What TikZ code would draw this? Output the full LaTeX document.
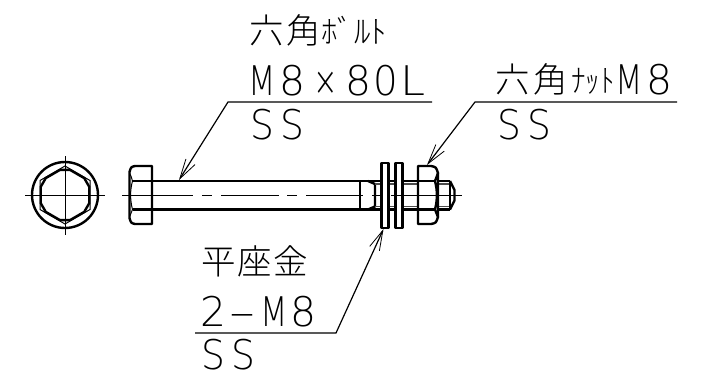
\documentclass[tikz,border=0pt]{standalone}
\usepackage{fontspec}
\newfontfamily\cjk{Noto Sans CJK JP Light}
\newfontfamily\lat{DejaVu Sans ExtraLight}
\setmainfont{DejaVu Sans}
\usetikzlibrary{arrows.meta,calc}
% one glyph, centred on the pen, x-scaled, then an advance in picture pixels
\newcommand\mc[3][1]{\makebox[0pt]{\scalebox{#1}[1]{#2}}\hspace{\dimexpr#3\dimexpr0.75bp\relax\relax}}
\newcommand\latline[1]{{\fontsize{30.75}{32}\lat #1}}
\tikzset{
 heavy/.style={line width=1.8bp,line join=round},
 fine/.style={line width=0.75bp},
 leader/.style={line width=0.9bp,{Straight Barb[length=15bp,width=8bp,line width=0.6bp]}-},
 kan/.style={inner sep=0pt,anchor=base west,font=\fontsize{26}{27}\cjk},
 kana/.style={inner sep=0pt,anchor=base west,font=\fontsize{21}{24}\cjk},
 ltr/.style={inner sep=0pt,anchor=base west},
 washer/.style={heavy,fill=white},
}
\begin{document}
\begin{tikzpicture}[x=0.75bp,y=-0.75bp]
\useasboundingbox (0,0) rectangle (709,373);
% end view
\draw[fine] (25,195)--(105,195) (65,156)--(65,235);
\draw[heavy] (65,195) circle[radius=33];
\draw[fine] (65,166)--(90,180.5)--(90,209.5)--(65,224)--(40,209.5)--(40,180.5)--cycle;
\begin{scope}[shift={(65,195)}]
\draw[heavy] (101.3:25.6)--(78.7:25.6)--(41.3:25.6)--(18.7:25.6)--(-18.7:25.6)--(-41.3:25.6)--(-78.7:25.6)--(-101.3:25.6)--(-138.7:25.6)--(-161.3:25.6)--(161.3:25.6)--(138.7:25.6)--cycle;
\end{scope}
% shank and thread
\draw[heavy] (152,181)--(450,181) (152,209.5)--(450,209.5);
\draw[heavy] (360,181)--(360,209.5);
\draw[heavy] (368,181) .. controls (372,182) .. (375,184)--(375,206.5) .. controls (372,208.5) .. (368,209.5);
\draw[line width=1bp,black!70] (375,184)--(450,184) (375,206.5)--(450,206.5);
\draw[heavy] (450,181)--(450,209.5);
\draw[heavy] (450,181)--(454.5,190)--(454.5,200.5)--(450,209.5);
% bolt head
\draw[heavy] (152,166)--(135,166) .. controls (131,167) .. (129.5,172)--(129.5,218) .. controls (131,223) .. (135,224)--(152,224)--cycle;
\draw[heavy] (132.5,181)--(152,181) (132.5,209.5)--(152,209.5);
\draw[fine] (129.5,173) .. controls (131,176) .. (132.5,181) .. controls (130,190) and (130,200) .. (132.5,209.5) .. controls (131,214) .. (129.5,217);
% washers and nut
\draw[washer] (381.5,163) rectangle (388.5,228);
\draw[washer] (395.5,163) rectangle (402.5,228);
\draw[washer] (418,166)--(431,166) .. controls (436,167) .. (438,173)--(438,217) .. controls (436,223) .. (431,224)--(418,224)--cycle;
\draw[heavy] (418,181)--(435,181) (418,209.5)--(435,209.5);
\draw[heavy] (438,173) .. controls (437,176) .. (435,181) .. controls (437.5,190) and (437.5,200) .. (435,209.5) .. controls (437,214) .. (438,217);
% centre line
\draw[fine] (122,195)--(193,195) (202,195)--(212,195) (221,195)--(279,195) (287,195)--(297,195) (306,195)--(363,195) (372,195)--(381,195) (391,195)--(462,195);
% leaders
\coordinate (tipB) at (179,180);
\coordinate (elbowB) at (228,102);
\coordinate (endB) at (432,102);
\coordinate (tipN) at (427,165);
\coordinate (elbowN) at (475,102);
\coordinate (endN) at (677,102);
\coordinate (tipW) at (383.5,229);
\coordinate (elbowW) at (336,333);
\coordinate (endW) at (195,333);
\draw[leader] (tipB)--(elbowB)--(endB);
\draw[leader] (tipN)--(elbowN)--(endN);
\draw[leader] (tipW)--(elbowW)--(endW);
% bolt text
\node[kan] (b1) at (249,43) {六};
\node[kan] (b2) at (286,43) {角};
\node[kana] (b3) at (321,43) {\scalebox{1.18}[1.15]{ﾎﾞﾙﾄ}};
\node[ltr] (b4) at (262,95) {\latline{\mc[0.78]{M}{30}\mc{8}{33.5}\mc[0.72]{×}{32.5}\mc{8}{28}\mc[0.95]{0}{27}\mc[1.1]{L}{0}}};
\node[ltr] (b5) at (262,139.5) {\latline{\mc[0.92]{S}{30}\mc[0.92]{S}{0}}};
% nut text
\node[kan] (n1) at (495,92) {六};
\node[kan] (n2) at (533,92) {角};
\node[kana] (n3) at (571,92) {\scalebox{1.04}[1.15]{ﾅｯﾄ}};
\node[ltr] (n4) at (629,94) {\latline{\mc[0.78]{M}{30}\mc{8}{0}}};
\node[ltr] (n5) at (509,139.5) {\latline{\mc[0.92]{S}{30}\mc[0.92]{S}{0}}};
% washer text
\node[kan] (w1) at (201,274) {平};
\node[kan] (w2) at (237,274) {座};
\node[kan] (w3) at (273,274) {金};
\node[ltr] (w4) at (213.5,326) {\latline{\mc{2}{28.5}\mc[1.9]{-}{31.5}\mc[0.78]{M}{30}\mc{8}{0}}};
\node[ltr] (w5) at (213.5,369.5) {\latline{\mc[0.92]{S}{30}\mc[0.92]{S}{0}}};
\end{tikzpicture}
\end{document}
